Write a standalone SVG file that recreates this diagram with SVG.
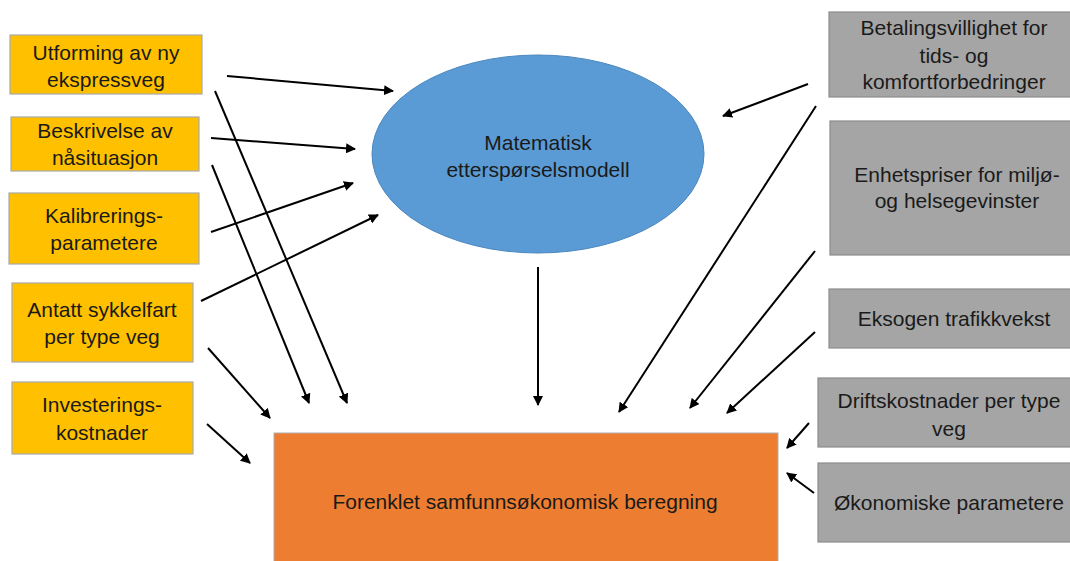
<svg xmlns="http://www.w3.org/2000/svg" width="1070" height="561" viewBox="0 0 1070 561">
<style>
text{font-family:"Liberation Sans",Arial,sans-serif;font-size:21px;fill:#1a1a1a;text-anchor:middle}
.y{fill:#FFC000;stroke:#a8a8a8;stroke-width:1.2}
.g{fill:#A5A5A5;stroke:#8c8c8c;stroke-width:1.2}
.c line{stroke:#000;stroke-width:2;marker-end:url(#ah)}
</style>
<defs>
<marker id="ah" viewBox="0 0 10 10" refX="9" refY="5" markerWidth="5" markerHeight="5" orient="auto" markerUnits="strokeWidth">
<path d="M0,0 L10,5 L0,10 z" fill="#000"/>
</marker>
</defs>
<rect width="1070" height="561" fill="#fff"/>
<g id="n-utforming"><rect class="y" x="10" y="35" width="192" height="59"/><text x="106" y="60">Utforming av ny</text><text x="106" y="87">ekspressveg</text></g>
<g id="n-beskrivelse"><rect class="y" x="11" y="117" width="188" height="54"/><text x="105" y="138">Beskrivelse av</text><text x="105" y="165">nåsituasjon</text></g>
<g id="n-kalibrering"><rect class="y" x="9" y="193" width="190" height="71"/><text x="104" y="223">Kalibrerings-</text><text x="104" y="250">parametere</text></g>
<g id="n-antatt"><rect class="y" x="12" y="283" width="181" height="79"/><text x="102" y="317">Antatt sykkelfart</text><text x="102" y="344">per type veg</text></g>
<g id="n-investering"><rect class="y" x="12" y="382" width="181" height="72"/><text x="102" y="412">Investerings-</text><text x="102" y="440">kostnader</text></g>
<g id="n-modell"><ellipse cx="538" cy="154" rx="166" ry="99" fill="#5B9BD5" stroke="#4a86bd" stroke-width="1"/><text x="538" y="150">Matematisk</text><text x="538" y="177">etterspørselsmodell</text></g>
<g id="n-beregning"><rect x="274" y="433" width="504" height="140" fill="#ED7D31" stroke="#b0b0b0" stroke-width="1"/><text x="525" y="509">Forenklet samfunnsøkonomisk beregning</text></g>
<g id="n-betaling"><rect class="g" x="829" y="12" width="245" height="85"/><text x="954" y="35">Betalingsvillighet for</text><text x="954" y="63">tids- og</text><text x="954" y="89">komfortforbedringer</text></g>
<g id="n-enhetspriser"><rect class="g" x="830" y="121" width="245" height="134"/><text x="957" y="182">Enhetspriser for miljø-</text><text x="957" y="208">og helsegevinster</text></g>
<g id="n-eksogen"><rect class="g" x="829" y="289" width="245" height="59"/><text x="954" y="326">Eksogen trafikkvekst</text></g>
<g id="n-drift"><rect class="g" x="818" y="378" width="256" height="69"/><text x="949" y="408">Driftskostnader per type</text><text x="949" y="436">veg</text></g>
<g id="n-okonomi"><rect class="g" x="818" y="463" width="256" height="79"/><text x="949" y="510">Økonomiske parametere</text></g>
<g id="connectors" class="c">
<line x1="227" y1="76" x2="393" y2="91"/>
<line x1="215" y1="91" x2="347" y2="403"/>
<line x1="211" y1="138" x2="355" y2="149"/>
<line x1="212" y1="165" x2="309" y2="403"/>
<line x1="211" y1="232" x2="353" y2="183"/>
<line x1="201" y1="301" x2="378" y2="215"/>
<line x1="208" y1="348" x2="270" y2="418"/>
<line x1="207" y1="424" x2="250" y2="463"/>
<line x1="538" y1="267" x2="538" y2="405"/>
<line x1="808" y1="84" x2="723" y2="116"/>
<line x1="816" y1="106" x2="619" y2="412"/>
<line x1="815" y1="251" x2="690" y2="408"/>
<line x1="815" y1="332" x2="727" y2="413"/>
<line x1="809" y1="423" x2="787" y2="448"/>
<line x1="814" y1="493" x2="787" y2="473"/>
</g>
</svg>
